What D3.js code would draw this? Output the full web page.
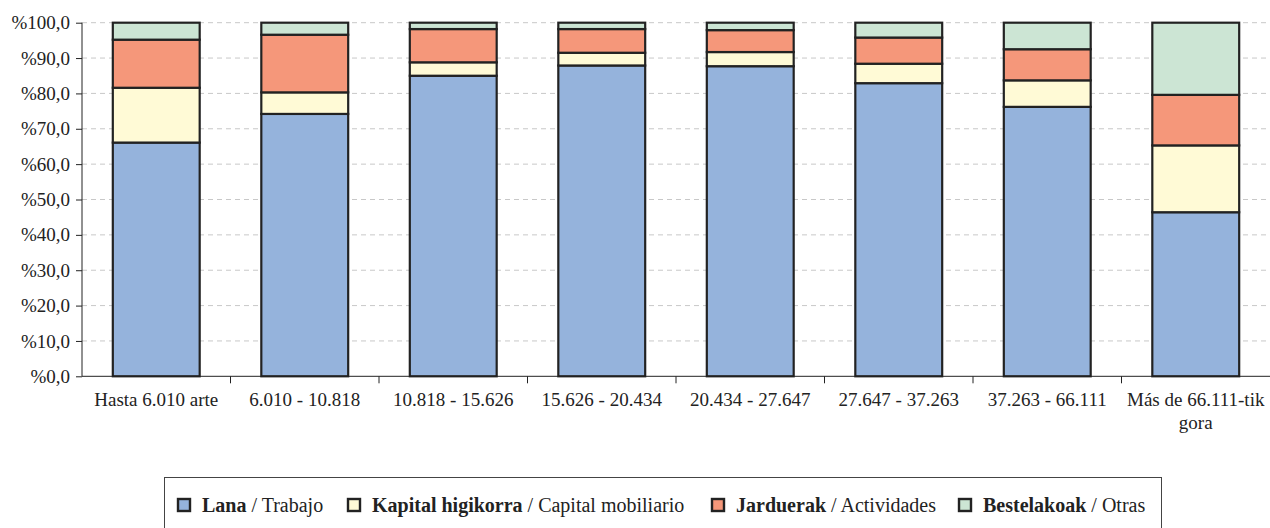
<!DOCTYPE html>
<meta charset="utf-8">
<style>
body { margin: 0; background: #fff; }
svg, svg text { font-family: "Liberation Serif", Tinos, "Times New Roman", "DejaVu Serif", serif; }
.grid line { stroke: #c8c8c8; stroke-dasharray: 5,4; }
.axis path, .axis line { stroke: #222; }
.axis text { font-size: 19px; fill: #222; }
.seg { stroke: #222; stroke-width: 2.2; }
</style>
<body>
<script src="https://cdn.jsdelivr.net/npm/d3@7"></script>
<script>

var categories = ["Hasta 6.010 arte", "6.010 - 10.818", "10.818 - 15.626", "15.626 - 20.434",
                  "20.434 - 27.647", "27.647 - 37.263", "37.263 - 66.111", "Más de 66.111-tik gora"];
var lana       = [66.1, 74.2, 85.0, 87.9, 87.7, 82.9, 76.2, 46.4];
var kapital    = [15.5,  6.1,  3.8,  3.6,  4.0,  5.5,  7.5, 18.9];
var jarduerak  = [13.6, 16.3,  9.4,  6.7,  6.2,  7.4,  8.8, 14.3];
var bestelak   = [ 4.8,  3.4,  1.8,  1.8,  2.1,  4.2,  7.5, 20.4];
var yTicks = [0, 10, 20, 30, 40, 50, 60, 70, 80, 90, 100];

var series = [
  {bold: "Lana", rest: " / Trabajo", values: lana, color: "#95b3dc"},
  {bold: "Kapital higikorra", rest: " / Capital mobiliario", values: kapital, color: "#fffad6"},
  {bold: "Jarduerak", rest: " / Actividades", values: jarduerak, color: "#f5977a"},
  {bold: "Bestelakoak", rest: " / Otras", values: bestelak, color: "#cce5d4"}
];

var width = 1270, height = 528,
    plotLeft = 82, plotRight = 1270, plotTop = 22.7, plotBottom = 376.3;

var svg = d3.select("body").append("svg")
    .attr("width", width)
    .attr("height", height);

var x = d3.scaleBand().domain(categories).range([plotLeft, plotRight]).paddingInner(0.415).paddingOuter(0.2075);
var y = d3.scaleLinear().domain([0, 100]).range([plotBottom, plotTop]);

// grid
svg.append("g").attr("class", "grid")
  .selectAll("line").data(yTicks.filter(function(d){ return d > 0; })).enter()
  .append("line")
    .attr("x1", plotLeft).attr("x2", plotRight)
    .attr("y1", function(d){ return y(d); })
    .attr("y2", function(d){ return y(d); });

// stacked bars
var rows = categories.map(function(c, i) {
  var r = {cat: c};
  series.forEach(function(s, j){ r["s" + j] = s.values[i]; });
  return r;
});
var stack = d3.stack().keys(series.map(function(s, j){ return "s" + j; }))(rows);

svg.append("g").selectAll("g").data(stack).enter()
  .append("g").attr("fill", function(d, i){ return series[i].color; })
  .selectAll("rect").data(function(d){ return d; }).enter()
  .append("rect").attr("class", "seg")
    .attr("x", function(d){ return x(d.data.cat); })
    .attr("width", x.bandwidth())
    .attr("y", function(d){ return y(d[1]); })
    .attr("height", function(d){ return y(d[0]) - y(d[1]); });

// y axis
svg.append("g").attr("class", "axis")
  .attr("transform", "translate(" + plotLeft + ",0)")
  .call(d3.axisLeft(y).tickValues(yTicks).tickSize(6).tickPadding(6)
    .tickFormat(function(d){ return "%" + d + ",0"; }))
  .call(function(g){ g.select(".domain").attr("d", "M0," + plotTop + "V" + plotBottom); })
  .attr("font-family", null);

// x axis with ticks at band boundaries
var xAxis = svg.append("g").attr("class", "axis")
  .attr("transform", "translate(0," + plotBottom + ")");
xAxis.append("line").attr("x1", plotLeft).attr("x2", plotRight).attr("y1", 0).attr("y2", 0);
xAxis.selectAll(".bt").data(categories.slice(1)).enter()
  .append("line").attr("class", "bt")
    .attr("x1", function(d){ return x(d) - x.step() * x.paddingInner() / 2; })
    .attr("x2", function(d){ return x(d) - x.step() * x.paddingInner() / 2; })
    .attr("y1", 0).attr("y2", 7);

var lbl = xAxis.selectAll(".lbl").data(categories).enter()
  .append("text").attr("class", "lbl")
    .attr("text-anchor", "middle")
    .attr("x", function(d){ return x(d) + x.bandwidth() / 2; })
    .attr("y", 29.5);
lbl.each(function(d) {
  var t = d3.select(this);
  var parts = d === "Más de 66.111-tik gora" ? ["Más de 66.111-tik", "gora"] : [d];
  parts.forEach(function(p, i) {
    t.append("tspan").attr("x", t.attr("x")).attr("dy", i ? 23 : 0).text(p);
  });
});

// legend
var lg = svg.append("g");
lg.append("rect")
  .attr("x", 164.5).attr("y", 477.5).attr("width", 997).attr("height", 60)
  .attr("fill", "#fff").attr("stroke", "#444");
var legX = [178, 348, 712, 959];
series.forEach(function(s, i) {
  var g = lg.append("g").attr("transform", "translate(" + legX[i] + ",499)");
  g.append("rect").attr("width", 12).attr("height", 12)
    .attr("fill", s.color).attr("stroke", "#222").attr("stroke-width", 2.4);
  var t = g.append("text").attr("x", 24).attr("y", 12.5).attr("font-size", "20px").attr("fill", "#222");
  t.append("tspan").attr("font-weight", "bold").text(s.bold);
  t.append("tspan").text(s.rest);
});
</script>
